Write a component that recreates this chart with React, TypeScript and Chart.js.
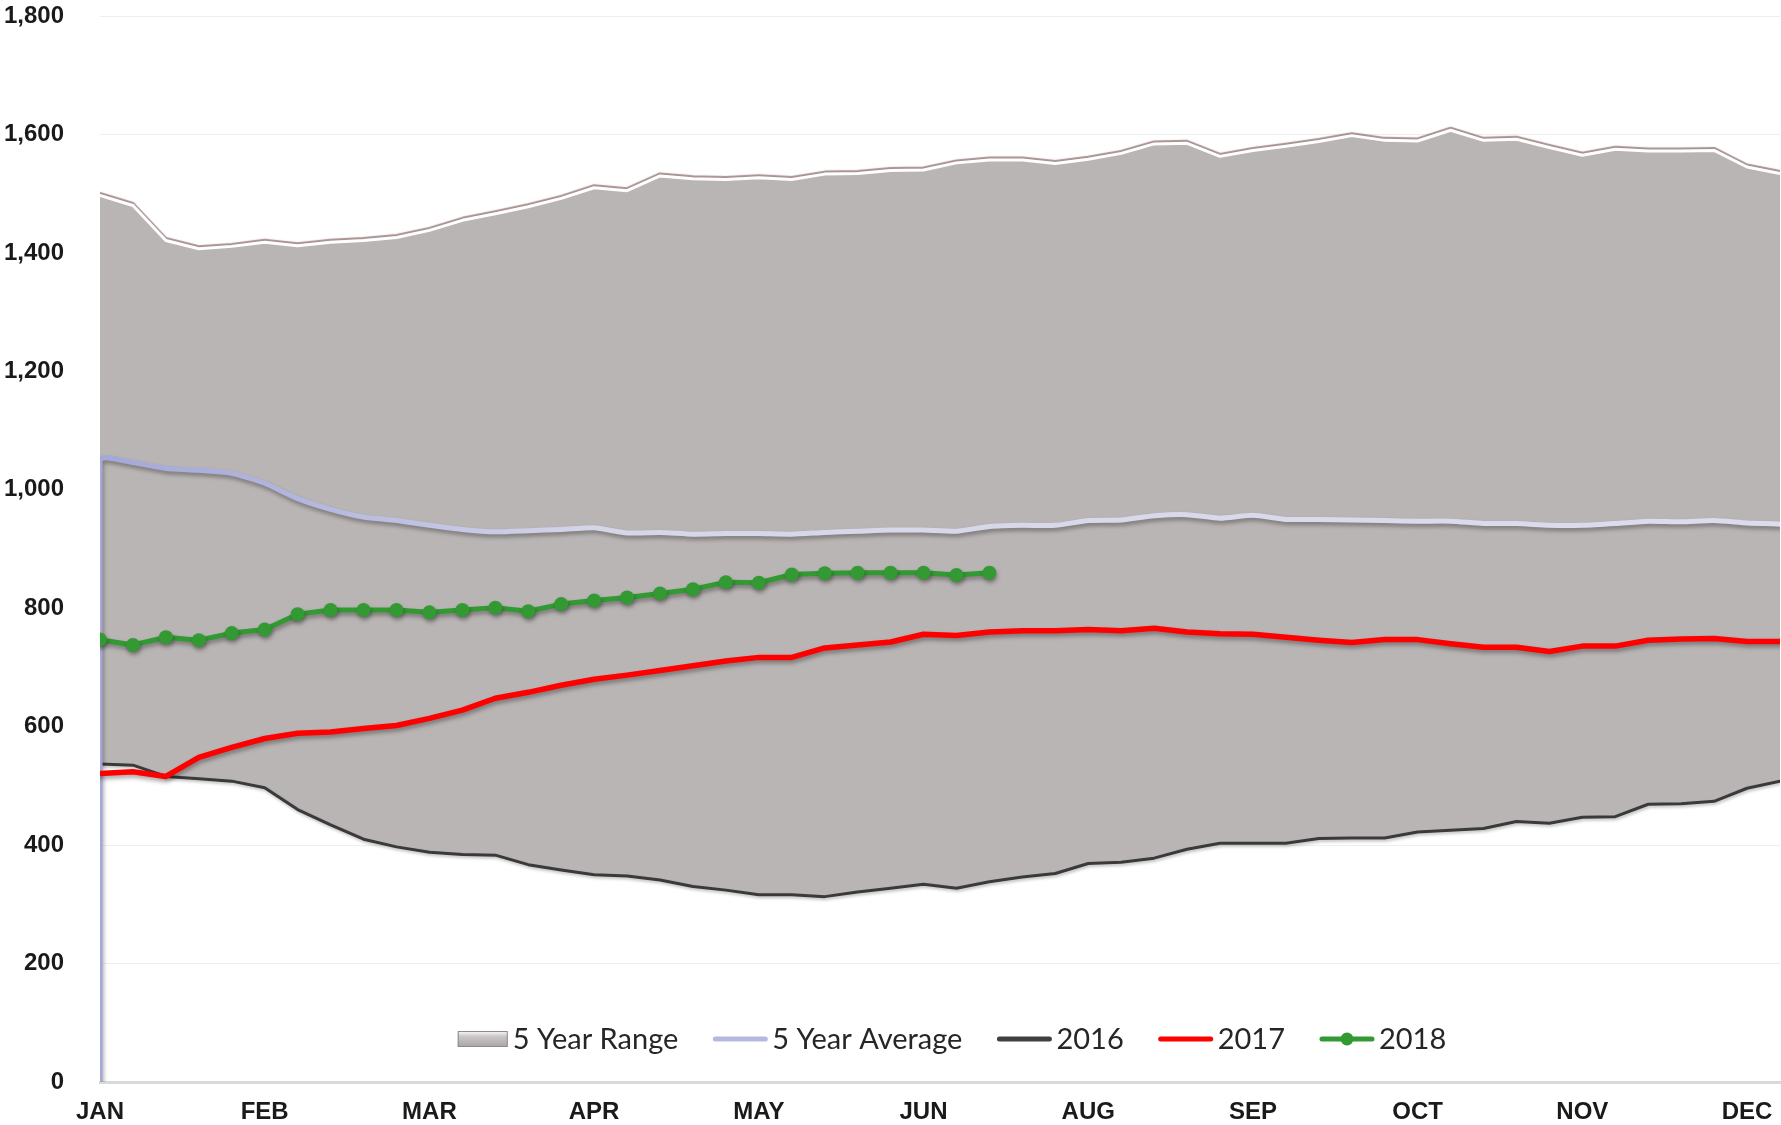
import React, { useEffect, useRef } from "react";
import { Chart, registerables } from "chart.js";

Chart.register(...registerables);

// ---- data ----
const monthTicks = ["JAN", "FEB", "MAR", "APR", "MAY", "JUN", "AUG", "SEP", "OCT", "NOV", "DEC"];
const weeksPerTick = 5;

const rangeMax = [
  1497, 1480, 1421, 1407, 1411, 1418, 1412, 1418, 1421, 1426,
  1438, 1455, 1466, 1478, 1492, 1510, 1505, 1530, 1525, 1524,
  1527, 1524, 1533, 1534, 1539, 1540, 1552, 1557, 1557, 1551,
  1558, 1568, 1584, 1585, 1563, 1573, 1580, 1588, 1598, 1590,
  1589, 1607, 1590, 1592, 1578, 1565, 1575, 1572, 1572, 1573,
  1545, 1534,
];

const avgLeadIn = 0;
const avg5yr = [
  1050, 1046, 1036, 1033, 1028, 1011, 985, 967, 954, 948,
  940, 933, 929, 931, 933, 936, 927, 928, 925, 926,
  926, 925, 928, 930, 932, 932, 930, 938, 940, 940,
  948, 949, 956, 958, 952, 957, 950, 950, 949, 948,
  947, 947, 943, 943, 940, 940, 943, 947, 946, 948,
  944, 942,
];

const y2016 = [
  537, 535, 516, 512, 508, 497, 460, 434, 410, 397,
  388, 384, 383, 367, 358, 350, 348, 341, 330, 324,
  316, 316, 313, 321, 327, 334, 327, 338, 346, 352,
  369, 371, 378, 393, 403, 403, 403, 411, 412, 412,
  422, 425, 428, 440, 437, 447, 448, 469, 470, 474,
  496, 508,
];

const y2017 = [
  521, 524, 516, 548, 565, 580, 589, 591, 597, 602,
  614, 628, 648, 658, 670, 680, 687, 695, 703, 711,
  717, 717, 733, 738, 743, 756, 754, 760, 762, 762,
  764, 762, 766, 760, 757, 756, 751, 746, 742, 747,
  747, 740, 734, 734, 727, 736, 736, 746, 748, 749,
  744, 744,
];

const y2018 = [
  747, 738, 751, 746, 758, 764, 790, 797, 797, 797,
  793, 797, 801, 795, 807, 813, 818, 825, 832, 844,
  843, 857, 859, 860, 860, 860, 856, 860,
];

const yMax = 1800;
const yStep = 200;

const weekIndex = rangeMax.map((_, i) => i);

const W = 1781;
const H = 1125;

const shadowPlugin = {
  id: "lineShadow",
  beforeDatasetDraw(chart: any, args: any) {
    const ds = chart.data.datasets[args.index];
    const ctx = chart.ctx;
    ctx.save();
    const s = ds.shadow;
    if (s) {
      ctx.shadowColor = s.color;
      ctx.shadowOffsetX = s.x;
      ctx.shadowOffsetY = s.y;
      ctx.shadowBlur = s.blur;
    }
  },
  afterDatasetDraw(chart: any) {
    chart.ctx.restore();
  },
};

const legendOrder = [0, 2, 1, 3, 4];

const legendPlugin = {
  id: "excelLegend",
  afterDraw(chart: any) {
    const ctx = chart.ctx;
    const area = chart.chartArea;
    ctx.save();
    ctx.font = "29px Lato, 'Open Sans', sans-serif";
    ctx.textBaseline = "middle";
    ctx.textAlign = "left";
    const gapText = 5;
    const gapItem = 35;
    const items = legendOrder.map((i) => chart.data.datasets[i]);
    const widths = items.map((d: any) => d.legendW + gapText + ctx.measureText(d.label).width);
    const total = widths.reduce((a: number, b: number) => a + b, 0) + gapItem * (items.length - 1);
    let x = (area.left + area.right) / 2 + 12 - total / 2;
    const y = area.bottom - 43;
    items.forEach((d: any, k: number) => {
      const w = d.legendW;
      if (d.legendType === "box") {
        const g = ctx.createLinearGradient(0, y - 8, 0, y + 8);
        g.addColorStop(0, "#fbfbfb");
        g.addColorStop(0.35, "#c9c6c5");
        g.addColorStop(1, "#a9a5a4");
        ctx.fillStyle = g;
        ctx.fillRect(x, y - 8, w, 16);
        ctx.strokeStyle = "#8d8a8a";
        ctx.lineWidth = 1;
        ctx.strokeRect(x + 0.5, y - 7.5, w - 1, 15);
      } else {
        ctx.strokeStyle = d.legendColor;
        ctx.lineWidth = d.legendLine;
        ctx.lineCap = "round";
        ctx.beginPath();
        ctx.moveTo(x + 2, y);
        ctx.lineTo(x + w - 2, y);
        ctx.stroke();
        if (d.legendType === "linePoint") {
          ctx.fillStyle = d.legendColor;
          ctx.beginPath();
          ctx.arc(x + w / 2, y, 6.5, 0, Math.PI * 2);
          ctx.fill();
        }
      }
      ctx.fillStyle = "#262626";
      ctx.fillText(d.label, x + w + gapText, y + 1);
      x += widths[k] + gapItem;
    });
    ctx.restore();
  },
};

export default function App() {
  const canvasRef = useRef<HTMLCanvasElement | null>(null);

  useEffect(() => {
    if (!canvasRef.current) return;
    Chart.defaults.font.family = "'Liberation Sans', Arial, sans-serif";

    const avgColor = (c: any) => {
      const area = c.chart.chartArea;
      if (!area) return "#b9bce0";
      const g = c.chart.ctx.createLinearGradient(area.left, 0, area.right, 0);
      g.addColorStop(0, "#a3a8d8");
      g.addColorStop(0.12, "#b3b6de");
      g.addColorStop(0.3, "#d6d6ea");
      g.addColorStop(1, "#dcdcee");
      return g;
    };

    const chart = new Chart(canvasRef.current, {
      type: "line",
      data: {
        labels: weekIndex,
        datasets: [
          {
            label: "5 Year Range",
            data: rangeMax,
            borderColor: "#ffffff",
            borderWidth: 3,
            backgroundColor: "#b9b5b4",
            fill: 1,
            pointRadius: 0,
            tension: 0,
            order: 5,
            shadow: { color: "rgba(110,70,70,0.6)", x: 0, y: -2, blur: 1 },
            legendType: "box",
            legendW: 50,
          } as any,
          {
            label: "2016",
            data: y2016,
            borderColor: "#3a3a3a",
            borderWidth: 3,
            fill: false,
            pointRadius: 0,
            tension: 0,
            order: 4,
            shadow: { color: "rgba(0,0,0,0.25)", x: 1, y: 2, blur: 3 },
            legendType: "line",
            legendColor: "#404040",
            legendLine: 5,
            legendW: 54,
          } as any,
          {
            label: "5 Year Average",
            data: [{ x: 0, y: avgLeadIn }, ...avg5yr.map((v, i) => ({ x: i, y: v }))],
            borderColor: avgColor,
            borderWidth: 5,
            fill: false,
            pointRadius: 0,
            tension: 0.2,
            order: 3,
            shadow: { color: "rgba(0,0,0,0.35)", x: 1, y: 3, blur: 4 },
            legendType: "line",
            legendColor: "#b6b9df",
            legendLine: 5,
            legendW: 54,
          } as any,
          {
            label: "2017",
            data: y2017,
            borderColor: "#ff0000",
            borderWidth: 5.5,
            fill: false,
            pointRadius: 0,
            tension: 0,
            order: 2,
            shadow: { color: "rgba(0,0,0,0.35)", x: 1, y: 3, blur: 4 },
            legendType: "line",
            legendColor: "#ff0000",
            legendLine: 5,
            legendW: 54,
          } as any,
          {
            label: "2018",
            data: y2018,
            borderColor: "#339933",
            backgroundColor: "#339933",
            borderWidth: 5,
            fill: false,
            pointRadius: 7,
            pointBorderWidth: 0,
            pointBackgroundColor: "#339933",
            tension: 0,
            order: 1,
            shadow: { color: "rgba(0,0,0,0.35)", x: 1, y: 3, blur: 4 },
            legendType: "linePoint",
            legendColor: "#339933",
            legendLine: 5,
            legendW: 54,
          } as any,
        ],
      },
      options: {
        animation: false,
        responsive: false,
        maintainAspectRatio: false,
        devicePixelRatio: 1,
        layout: { autoPadding: false, padding: { top: 16, right: 1, left: 0, bottom: 0 } },
        plugins: {
          legend: { display: false },
          tooltip: { enabled: false },
        },
        elements: { line: { borderJoinStyle: "round", borderCapStyle: "round" } },
        scales: {
          x: {
            type: "linear",
            min: 0,
            max: rangeMax.length - 1,
            afterBuildTicks: (s: any) => {
              s.ticks = monthTicks.map((_, k) => ({ value: k * weeksPerTick }));
            },
            afterFit: (s: any) => {
              s.height = 43;
              s.paddingRight = 0;
              s.paddingLeft = 0;
            },
            grid: {
              display: true,
              drawOnChartArea: false,
              color: "rgba(0,0,0,0)",
              drawTicks: true,
              tickLength: 16,
              tickColor: "rgba(0,0,0,0)",
            },
            border: { display: true, color: "#d9d9d9", width: 3 },
            ticks: {
              autoSkip: false,
              maxRotation: 0,
              padding: 0,
              color: "#1a1a1a",
              font: { size: 24, weight: "bold" },
              callback: (_v: any, i: number) => monthTicks[i],
            },
          },
          y: {
            min: 0,
            max: yMax,
            afterFit: (s: any) => {
              s.width = 100;
            },
            grid: {
              color: "#efefef",
              lineWidth: 1,
              drawTicks: true,
              tickLength: 36,
              tickColor: "rgba(0,0,0,0)",
            },
            border: { display: false },
            ticks: {
              stepSize: yStep,
              padding: 0,
              color: "#1a1a1a",
              font: { size: 24, weight: "bold" },
              callback: (v: any) => Number(v).toLocaleString("en-US"),
            },
          },
        },
      },
      plugins: [shadowPlugin, legendPlugin],
    } as any);

    return () => chart.destroy();
  }, []);

  return (
    <div style={{ position: "absolute", left: 0, top: 0, width: W, height: H, background: "#ffffff" }}>
      <canvas ref={canvasRef} width={W} height={H} style={{ display: "block", width: W, height: H }} />
    </div>
  );
}
